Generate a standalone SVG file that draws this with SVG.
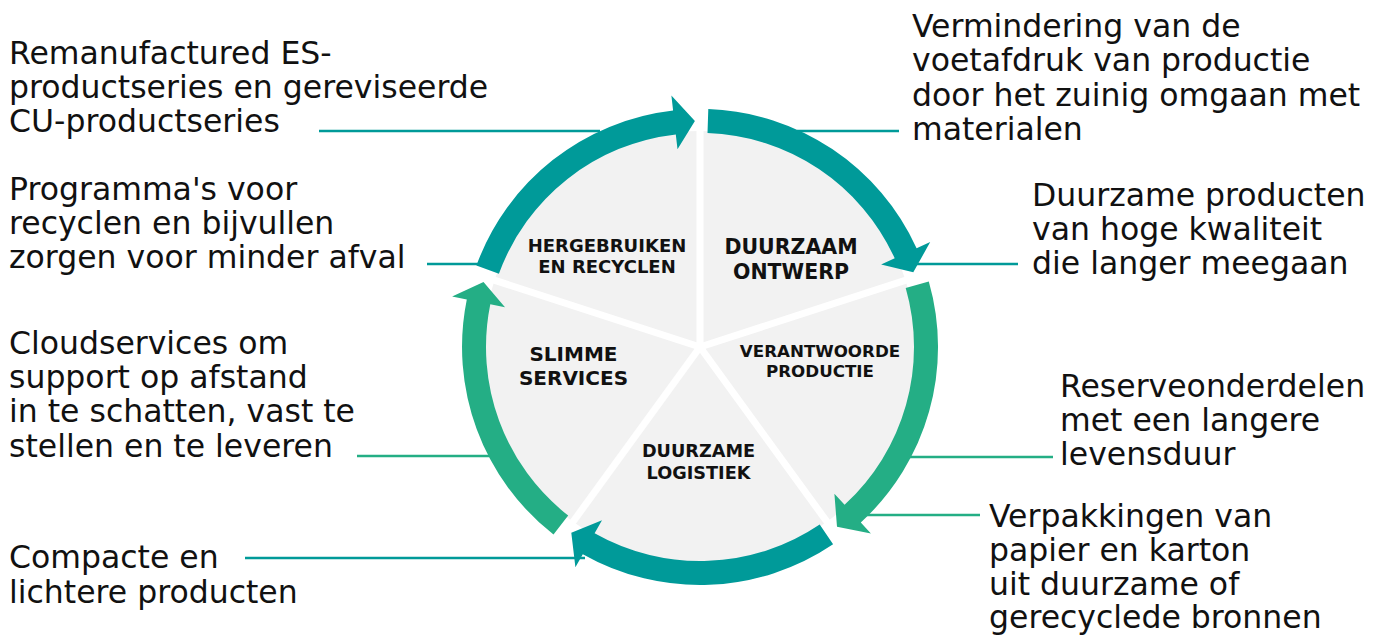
<svg xmlns="http://www.w3.org/2000/svg" width="1378" height="635" viewBox="0 0 1378 635">
<style>
.note{font-family:"DejaVu Sans","Liberation Sans",sans-serif;font-size:31.5px;fill:#111111}
.lab{font-family:"DejaVu Sans","Liberation Sans",sans-serif;font-weight:bold;fill:#111111;text-anchor:middle}
.teal{fill:#009a99}
.green{fill:#24ae85}
.ct{stroke:#009a99;stroke-width:2.6;fill:none}
.cg{stroke:#24ae85;stroke-width:2.6;fill:none}
.div{stroke:#ffffff;stroke-width:7;stroke-linecap:butt}
</style>
<rect width="1378" height="635" fill="#ffffff"/>
<g id="connectors">
<path class="ct" d="M319 131 H600"/>
<path class="ct" d="M797 131 H899"/>
<path class="ct" d="M913 264 H1018"/>
<path class="ct" d="M427 264 H480"/>
<path class="cg" d="M357 456 H495"/>
<path class="cg" d="M908 457 H1053"/>
<path class="cg" d="M862 515 H980"/>
<path class="ct" d="M245 558 H585"/>
</g>
<g id="pie">
<circle cx="700" cy="347" r="216" fill="#f2f2f2"/>
<line class="div" x1="700" y1="347" x2="700" y2="107"/>
<line class="div" x1="700" y1="347" x2="928.3" y2="272.8"/>
<line class="div" x1="700" y1="347" x2="841.1" y2="541.2"/>
<line class="div" x1="700" y1="347" x2="558.9" y2="541.2"/>
<line class="div" x1="700" y1="347" x2="471.7" y2="272.8"/>
</g>
<g id="duurzaam-ontwerp">
<path class="teal" d="M708.3 109.1 A238 238 0 0 1 916.6 248.3 L930.2 242.1 L913.3 272.3 L881.1 264.5 L894.7 258.3 A214 214 0 0 0 707.5 133.1 Z"/>
<text class="lab" font-size="20.5" x="791" y="254">DUURZAAM</text>
<text class="lab" font-size="20.5" x="791" y="279">ONTWERP</text>
</g>
<g id="verantwoorde-productie">
<path class="green" d="M928.8 281.4 A238 238 0 0 1 860.8 522.5 L870.9 533.5 L837 526.8 L834.4 493.7 L844.6 504.8 A214 214 0 0 0 905.7 288 Z"/>
<text class="lab" font-size="16.7" x="820" y="357">VERANTWOORDE</text>
<text class="lab" font-size="16.7" x="820" y="377">PRODUCTIE</text>
</g>
<g id="duurzame-logistiek">
<path class="teal" d="M833.1 544.3 A238 238 0 0 1 582.8 554.2 L575.4 567.2 L571.3 532.8 L602 520.2 L594.6 533.3 A214 214 0 0 0 819.7 524.4 Z"/>
<text class="lab" font-size="17.7" x="698.5" y="457">DUURZAME</text>
<text class="lab" font-size="17.7" x="698.5" y="479">LOGISTIEK</text>
</g>
<g id="slimme-services">
<path class="green" d="M553.5 534.5 A238 238 0 0 1 466.8 299.5 L452.1 296.6 L483.5 282 L505 307.3 L490.3 304.3 A214 214 0 0 0 568.2 515.6 Z"/>
<text class="lab" font-size="20" x="573.5" y="361">SLIMME</text>
<text class="lab" font-size="20" x="573.5" y="385">SERVICES</text>
</g>
<g id="hergebruiken-en-recyclen">
<path class="teal" d="M476.4 265.6 A238 238 0 0 1 673.1 110.5 L671.4 95.6 L694.9 121.1 L677.5 149.3 L675.8 134.4 A214 214 0 0 0 498.9 273.8 Z"/>
<text class="lab" font-size="18" x="607" y="252">HERGEBRUIKEN</text>
<text class="lab" font-size="18" x="607" y="273">EN RECYCLEN</text>
</g>
<g id="notes">
<text class="note" x="9" y="64">Remanufactured ES-</text>
<text class="note" x="9" y="98">productseries en gereviseerde</text>
<text class="note" x="9" y="132">CU-productseries</text>
<text class="note" x="9" y="200">Programma's voor</text>
<text class="note" x="9" y="234">recyclen en bijvullen</text>
<text class="note" x="9" y="268">zorgen voor minder afval</text>
<text class="note" x="9" y="353.5">Cloudservices om</text>
<text class="note" x="9" y="388">support op afstand</text>
<text class="note" x="9" y="422">in te schatten, vast te</text>
<text class="note" x="9" y="456.5">stellen en te leveren</text>
<text class="note" x="9" y="568">Compacte en</text>
<text class="note" x="9" y="603">lichtere producten</text>
<text class="note" x="912" y="37">Vermindering van de</text>
<text class="note" x="912" y="71">voetafdruk van productie</text>
<text class="note" x="912" y="105.5">door het zuinig omgaan met</text>
<text class="note" x="912" y="140">materialen</text>
<text class="note" x="1032" y="205.5">Duurzame producten</text>
<text class="note" x="1032" y="239.5">van hoge kwaliteit</text>
<text class="note" x="1032" y="273.5">die langer meegaan</text>
<text class="note" x="1060" y="397">Reserveonderdelen</text>
<text class="note" x="1060" y="431">met een langere</text>
<text class="note" x="1060" y="465">levensduur</text>
<text class="note" x="989" y="527">Verpakkingen van</text>
<text class="note" x="989" y="561">papier en karton</text>
<text class="note" x="989" y="595">uit duurzame of</text>
<text class="note" x="989" y="628">gerecyclede bronnen</text>
</g>
</svg>
